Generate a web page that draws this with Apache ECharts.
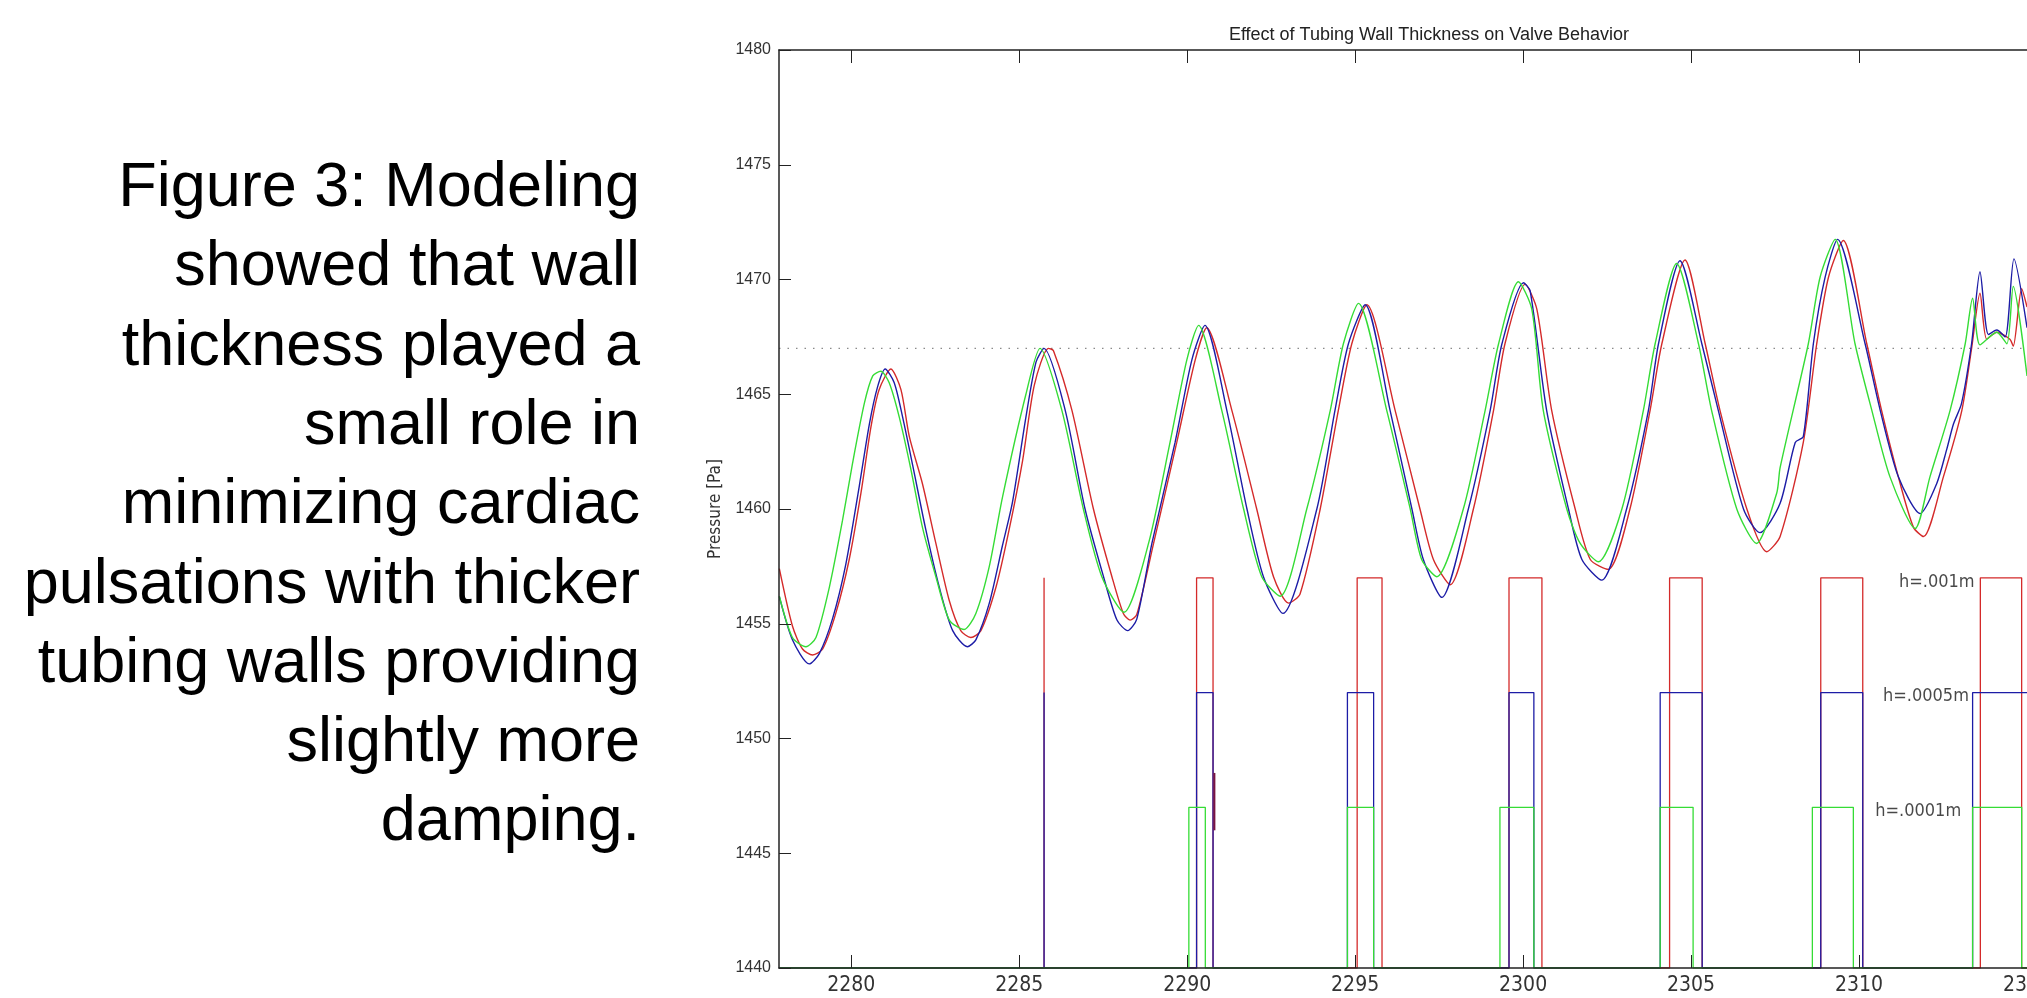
<!DOCTYPE html>
<html>
<head>
<meta charset="utf-8">
<script src="https://cdn.jsdelivr.net/npm/echarts@6/dist/echarts.min.js"></script>
<style>
html, body { margin: 0; padding: 0; background: #fff; }
#main { width: 2027px; height: 998px; }
</style>
</head>
<body>
<div id="main"></div>
<script>
// caption on the left of the figure
var captionLines = [
    'Figure 3: Modeling',
    'showed that wall',
    'thickness played a',
    'small role in',
    'minimizing cardiac',
    'pulsations with thicker',
    'tubing walls providing',
    'slightly more',
    'damping.'
];

var chartTitle = 'Effect of Tubing Wall Thickness on Valve Behavior';
var yName = 'Pressure [Pa]';
var xTicks = [2280, 2285, 2290, 2295, 2300, 2305, 2310, 2315, 2320];
var thresholdLevel = 1467;

// pressure traces [time, pressure]
var pressureThick = [ // h=.001m (red)
    [2277.86, 1457.4], [2278.25, 1454.9], [2278.55, 1453.9], [2278.85, 1453.64], [2279.15, 1453.9],
    [2279.54, 1455.45], [2279.94, 1457.8], [2280.29, 1460.7], [2280.59, 1463.6], [2280.83, 1465.2],
    [2281.18, 1466.1], [2281.48, 1465.2], [2281.73, 1463.15], [2282.12, 1461.1], [2282.52, 1458.5],
    [2282.92, 1456.0], [2283.26, 1454.7], [2283.56, 1454.4], [2283.86, 1454.7], [2284.31, 1456.6],
    [2284.70, 1459.1], [2285.10, 1462.1], [2285.45, 1465.4], [2285.87, 1467.0], [2286.02, 1466.9],
    [2286.57, 1464.3], [2287.21, 1460.0], [2287.76, 1457.05], [2288.10, 1455.45], [2288.30, 1455.16],
    [2288.50, 1455.4], [2289.00, 1458.5], [2289.69, 1462.9], [2290.24, 1466.5], [2290.58, 1467.9],
    [2291.33, 1464.3], [2292.07, 1460.0], [2292.57, 1457.05], [2293.02, 1455.9], [2293.36, 1456.3],
    [2293.96, 1460.0], [2294.50, 1464.3], [2294.90, 1467.2], [2295.35, 1468.9], [2296.19, 1464.3],
    [2296.93, 1460.0], [2297.33, 1457.8], [2297.83, 1456.7], [2298.52, 1460.0], [2299.12, 1464.3],
    [2299.46, 1467.2], [2300.06, 1469.8], [2300.41, 1468.7], [2300.85, 1464.3], [2301.55, 1460.0],
    [2302.00, 1457.8], [2302.54, 1457.37], [2303.18, 1460.0], [2303.78, 1464.3], [2304.13, 1467.2],
    [2304.82, 1470.85], [2305.42, 1467.2], [2305.86, 1464.3], [2306.66, 1460.0], [2307.25, 1458.14],
    [2307.65, 1458.8], [2308.34, 1462.9], [2308.74, 1467.2], [2309.09, 1470.1], [2309.53, 1471.7],
    [2310.23, 1467.2], [2310.67, 1464.3], [2311.17, 1461.4], [2311.62, 1459.2], [2311.92, 1458.8],
    [2312.51, 1461.4], [2313.06, 1464.3], [2313.35, 1467.0], [2313.60, 1469.4], [2313.80, 1467.4],
    [2314.10, 1467.7], [2314.49, 1467.4], [2314.59, 1467.1], [2314.84, 1469.6], [2315.00, 1468.8]
];
var pressureMid = [ // h=.0005m (blue)
    [2277.86, 1456.18], [2278.25, 1454.3], [2278.75, 1453.25], [2279.05, 1453.7], [2279.44, 1455.2],
    [2279.84, 1457.6], [2280.24, 1461.0], [2280.54, 1463.7], [2280.78, 1465.3], [2281.01, 1466.1],
    [2281.28, 1465.5], [2281.53, 1464.0], [2281.83, 1461.9], [2282.22, 1459.1], [2282.62, 1456.6],
    [2283.02, 1454.7], [2283.46, 1454.0], [2283.71, 1454.3], [2284.11, 1455.9], [2284.50, 1458.4],
    [2284.80, 1460.3], [2285.20, 1464.0], [2285.50, 1466.4], [2285.74, 1467.0], [2286.37, 1464.3],
    [2286.96, 1460.0], [2287.51, 1457.05], [2287.91, 1455.16], [2288.23, 1454.7], [2288.50, 1455.2],
    [2288.95, 1458.5], [2289.64, 1462.9], [2290.14, 1466.5], [2290.53, 1468.0], [2291.18, 1464.3],
    [2291.78, 1460.0], [2292.27, 1457.05], [2292.85, 1455.45], [2293.86, 1460.0], [2294.40, 1464.3],
    [2294.80, 1467.2], [2295.30, 1468.9], [2296.04, 1464.3], [2296.69, 1460.0], [2297.03, 1457.8],
    [2297.58, 1456.15], [2298.37, 1460.0], [2299.02, 1464.3], [2299.37, 1467.2], [2300.01, 1469.86],
    [2300.21, 1469.5], [2300.70, 1464.3], [2301.35, 1460.0], [2301.75, 1457.8], [2302.34, 1456.9],
    [2303.08, 1460.0], [2303.73, 1464.3], [2304.03, 1467.2], [2304.67, 1470.82], [2305.32, 1467.2],
    [2305.81, 1464.3], [2306.56, 1460.0], [2307.05, 1458.97], [2307.65, 1460.25], [2308.10, 1462.9],
    [2308.34, 1463.15], [2308.64, 1467.2], [2308.99, 1470.1], [2309.36, 1471.75], [2310.18, 1467.2],
    [2310.63, 1464.3], [2311.17, 1461.4], [2311.82, 1459.8], [2312.31, 1461.1], [2312.61, 1462.6],
    [2312.81, 1463.7], [2313.05, 1464.6], [2313.35, 1467.2], [2313.60, 1470.34], [2313.85, 1467.6],
    [2314.10, 1467.8], [2314.35, 1467.5], [2314.61, 1470.9], [2315.00, 1467.9]
];
var pressureThin = [ // h=.0001m (green)
    [2277.86, 1456.2], [2278.25, 1454.4], [2278.65, 1454.0], [2278.95, 1454.4], [2279.35, 1456.6],
    [2279.74, 1459.5], [2280.04, 1462.0], [2280.39, 1464.6], [2280.64, 1465.8], [2280.88, 1466.0],
    [2281.13, 1465.5], [2281.43, 1464.0], [2281.78, 1461.7], [2282.12, 1459.2], [2282.52, 1457.05],
    [2282.92, 1455.16], [2283.36, 1454.75], [2283.71, 1455.45], [2284.11, 1457.5], [2284.50, 1460.5],
    [2285.20, 1465.0], [2285.62, 1467.0], [2286.27, 1464.3], [2286.91, 1460.0],
    [2287.46, 1457.05], [2288.12, 1455.5], [2288.85, 1458.5], [2289.49, 1462.9], [2289.99, 1466.5],
    [2290.34, 1468.0], [2291.03, 1464.3], [2291.68, 1460.0], [2292.22, 1457.05], [2292.77, 1456.2],
    [2293.56, 1460.0], [2294.26, 1464.3], [2294.65, 1467.2], [2295.10, 1468.96], [2295.94, 1464.3],
    [2296.64, 1460.0], [2296.98, 1457.8], [2297.43, 1457.05], [2298.22, 1460.0], [2298.87, 1464.3],
    [2299.27, 1467.2], [2299.86, 1469.9], [2300.26, 1468.7], [2300.60, 1464.3], [2301.30, 1460.0],
    [2301.70, 1458.5], [2302.24, 1457.7], [2302.94, 1460.0], [2303.58, 1464.3], [2303.93, 1467.2],
    [2304.57, 1470.7], [2305.22, 1467.2], [2305.61, 1464.3], [2306.36, 1460.0], [2306.95, 1458.5],
    [2307.55, 1460.7], [2307.65, 1461.8], [2308.49, 1467.2], [2308.84, 1470.1], [2309.29, 1471.75],
    [2309.88, 1467.2], [2310.38, 1464.3], [2310.92, 1461.4], [2311.67, 1459.15], [2312.11, 1461.4],
    [2312.71, 1464.3], [2313.16, 1467.2], [2313.38, 1469.18], [2313.60, 1467.15], [2314.10, 1467.7],
    [2314.40, 1467.2], [2314.59, 1469.7], [2315.00, 1465.8]
];

// valve open intervals [open, close] for each wall thickness
var valveThick = [[2285.74, 2285.74], [2290.28, 2290.77], [2295.06, 2295.80], [2299.58, 2300.56],
    [2304.36, 2305.33], [2308.86, 2310.11], [2313.61, 2314.84]];
var valveMid = [[2285.74, 2285.74], [2290.28, 2290.77], [2294.77, 2295.55], [2299.58, 2300.32],
    [2304.08, 2305.33], [2308.86, 2310.11], [2313.38, 2316.5]];
var valveThin = [[2290.05, 2290.54], [2294.77, 2295.55], [2299.31, 2300.32], [2304.08, 2305.06],
    [2308.61, 2309.83], [2313.38, 2314.84]];
var valveLevels = [1457, 1452, 1447];
var valveBase = 1440;
// short dark trace next to the second valve opening
var valveGlitch = [[2290.81, 1446.0], [2290.81, 1448.5]];

var seriesNames = ['h=.001m', 'h=.0005m', 'h=.0001m'];
var labelAnchors = [[2313.5, 1457], [2313.33, 1452], [2313.1, 1447]];

var colors = ['#d42a2a', '#1c1ca6', '#35dc35'];

function stepPath(intervals, level) {
    var pts = [[2277.85, valveBase]];
    intervals.forEach(function (iv) {
        pts.push([iv[0], valveBase], [iv[0], level], [iv[1], level], [iv[1], valveBase]);
    });
    pts.push([2320, valveBase]);
    return pts;
}

var fontFamily = '"Liberation Sans", Arial, sans-serif';
var narrowFont = '"Liberation Sans Narrow", "DejaVu Sans Condensed", Arial, sans-serif';

var myChart = echarts.init(document.getElementById('main'));

var pressureSets = [pressureThick, pressureMid, pressureThin];
var valveSets = [valveThick, valveMid, valveThin];

var series = [];
pressureSets.forEach(function (d, i) {
    series.push({
        name: seriesNames[i] + ' pressure',
        type: 'line',
        data: d,
        showSymbol: false,
        smooth: 0.25,
        lineStyle: { width: 1.4, color: colors[i] },
        z: 3
    });
});
valveSets.forEach(function (d, i) {
    series.push({
        name: seriesNames[i] + ' valve',
        type: 'line',
        data: stepPath(d, valveLevels[i]),
        showSymbol: false,
        lineStyle: { width: 1.3, color: colors[i] },
        z: 4
    });
});
series.push({
    name: 'glitch',
    type: 'line',
    data: valveGlitch,
    showSymbol: false,
    lineStyle: { width: 2, color: '#7a1440' },
    z: 5
});
series.push({
    name: 'threshold',
    type: 'line',
    data: [[2277.85, thresholdLevel], [2320, thresholdLevel]],
    showSymbol: false,
    lineStyle: { width: 1.2, color: '#8a8a8a', type: [1.5, 7] },
    z: 2
});
series.push({
    name: 'labels',
    type: 'scatter',
    symbolSize: 0,
    data: labelAnchors.map(function (p, i) { return { value: p, name: seriesNames[i] }; }),
    label: {
        show: true,
        position: 'left',
        distance: 2,
        offset: [0, 4],
        formatter: '{b}',
        fontFamily: narrowFont,
        fontSize: 18,
        color: '#1a1a1a'
    },
    z: 6
});

function plain(v) { return String(v); }

option = {
    backgroundColor: '#fff',
    animation: false,
    title: {
        text: chartTitle,
        left: 1424,
        top: 21,
        textAlign: 'center',
        textStyle: { fontFamily: fontFamily, fontSize: 18, fontWeight: 'normal', color: '#222' }
    },
    graphic: [{
        type: 'text',
        x: 640,
        y: 149,
        style: {
            text: captionLines.join('\n'),
            fontFamily: fontFamily,
            fontSize: 63,
            lineHeight: 79.3,
            textAlign: 'right',
            textVerticalAlign: 'top',
            fill: '#000'
        }
    }],
    grid: { left: 779, top: 50, width: 1416, height: 918, outerBoundsMode: 'none' },
    xAxis: [{
        type: 'value',
        min: 2277.85,
        max: 2320,
        z: 8,
        splitLine: { show: false },
        axisLine: { lineStyle: { color: '#222', width: 1.5 } },
        axisTick: { inside: true, length: 13, customValues: xTicks, lineStyle: { color: '#222' } },
        axisLabel: {
            customValues: xTicks,
            formatter: plain,
            margin: 7,
            fontFamily: narrowFont,
            fontSize: 21,
            color: '#333'
        }
    }, {
        type: 'value',
        position: 'top',
        min: 2277.85,
        max: 2320,
        z: 8,
        splitLine: { show: false },
        axisLine: { lineStyle: { color: '#222', width: 1.5 } },
        axisTick: { inside: true, length: 13, customValues: xTicks, lineStyle: { color: '#222' } },
        axisLabel: { show: false }
    }],
    yAxis: {
        type: 'value',
        min: 1440,
        max: 1480,
        interval: 5,
        z: 8,
        name: yName,
        nameLocation: 'middle',
        nameGap: 44,
        nameTextStyle: { fontFamily: narrowFont, fontSize: 17, color: '#333' },
        splitLine: { show: false },
        axisLine: { lineStyle: { color: '#222', width: 1.5 } },
        axisTick: { inside: true, length: 12, lineStyle: { color: '#222' } },
        axisLabel: { formatter: plain, margin: 8, fontFamily: fontFamily, fontSize: 16, color: '#333' }
    },
    series: series
};

myChart.setOption(option);
</script>
</body>
</html>
